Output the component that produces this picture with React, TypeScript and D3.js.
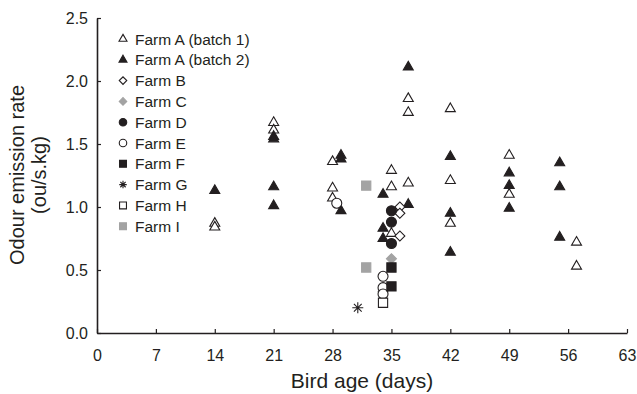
import React, { useEffect, useRef } from 'react';
import * as d3 from 'd3';

// [bird age (days), odour emission rate (ou/s.kg)]
const farmA1 = [
  [14, 0.87], [14, 0.84], [21, 1.67], [21, 1.61], [28, 1.36], [28, 1.15], [28, 1.07],
  [35, 1.29], [35, 1.16], [35, 0.79], [37, 1.86], [37, 1.75], [37, 1.19],
  [42, 1.78], [42, 1.21], [42, 0.87], [49, 1.41], [49, 1.1], [57, 0.72], [57, 0.53]
];
const farmA2 = [
  [14, 1.13], [21, 1.56], [21, 1.54], [21, 1.16], [21, 1.01], [29, 1.41], [29, 1.38], [29, 0.97],
  [34, 1.1], [34, 0.83], [34, 0.75], [37, 2.11], [37, 1.02], [42, 1.4], [42, 0.95], [42, 0.64],
  [49, 1.27], [49, 1.17], [49, 0.99], [55, 1.35], [55, 1.16], [55, 0.76]
];
const farmB = [[36, 1.0], [36, 0.95], [36, 0.77]];
const farmC = [[35, 0.59], [34, 0.33]];
const farmD = [[35, 0.97], [35, 0.88], [35, 0.71]];
const farmE = [[34, 0.45], [34, 0.36], [34, 0.31], [28.5, 1.03]];
const farmF = [[35, 0.52], [35, 0.37]];
const farmG = [[31, 0.2]];
const farmH = [[34, 0.24]];
const farmI = [[32, 1.17], [32, 0.52]];

const farmNames = ['Farm A (batch 1)', 'Farm A (batch 2)', 'Farm B', 'Farm C', 'Farm D',
  'Farm E', 'Farm F', 'Farm G', 'Farm H', 'Farm I'];
const farmData = [farmA1, farmA2, farmB, farmC, farmD, farmE, farmF, farmG, farmH, farmI];

const xTicks = [0, 7, 14, 21, 28, 35, 42, 49, 56, 63];
const yTicks = [0, 0.5, 1, 1.5, 2, 2.5];

const ink = '#231f20';
const grey = '#a3a3a3';

// marker style per farm
const styles = [
  { type: 'tri', fill: '#fff', stroke: ink },
  { type: 'tri', fill: ink, stroke: ink },
  { type: 'dia', fill: '#fff', stroke: ink },
  { type: 'dia', fill: grey, stroke: grey },
  { type: 'circ', fill: ink, stroke: ink },
  { type: 'circ', fill: '#fff', stroke: ink },
  { type: 'sq', fill: ink, stroke: ink },
  { type: 'star', fill: 'none', stroke: ink },
  { type: 'sq', fill: '#fff', stroke: ink },
  { type: 'sq', fill: grey, stroke: grey }
];

function markerPath(type, w) {
  if (type === 'tri') return d3.symbol(d3.symbolTriangle, (Math.sqrt(3) / 4) * w * w)();
  if (type === 'circ') return d3.symbol(d3.symbolCircle, Math.PI * (w / 2) * (w / 2))();
  if (type === 'sq') return d3.symbol(d3.symbolSquare, w * w * 0.85)();
  if (type === 'dia') return d3.symbol(d3.symbolSquare, (w * w) / 2)();
  // asterisk: 8 spokes
  const r = w / 2;
  let p = '';
  for (let i = 0; i < 4; i++) {
    const a = (i * Math.PI) / 4;
    p += `M${-r * Math.cos(a)},${-r * Math.sin(a)}L${r * Math.cos(a)},${r * Math.sin(a)}`;
  }
  return p;
}

function Chart() {
  const ref = useRef(null);

  useEffect(() => {
    const svg = d3.select(ref.current);
    svg.selectAll('*').remove();

    const x = d3.scaleLinear().domain([0, 63]).range([97, 627]);
    const y = d3.scaleLinear().domain([0, 2.5]).range([333, 18]);

    const font = 'Liberation Sans, Arial, sans-serif';

    const xAxis = svg.append('g')
      .attr('transform', 'translate(0,333)')
      .call(d3.axisBottom(x).tickValues(xTicks).tickSizeInner(-4).tickSizeOuter(0).tickPadding(17)
        .tickFormat(d3.format('d')));
    const yAxis = svg.append('g')
      .attr('transform', 'translate(97,0)')
      .call(d3.axisLeft(y).tickValues(yTicks).tickSizeInner(-4).tickSizeOuter(0).tickPadding(9)
        .tickFormat(d3.format('.1f')));

    [xAxis, yAxis].forEach(a => {
      a.select('.domain').attr('stroke', ink).attr('stroke-width', 1.6);
      a.selectAll('.tick line').attr('stroke', ink).attr('stroke-width', 1.2);
      a.selectAll('text').attr('fill', ink).style('font-family', font).style('font-size', '16px');
    });

    svg.append('text')
      .attr('x', 362).attr('y', 388)
      .attr('text-anchor', 'middle')
      .style('font-family', font).style('font-size', '21px').attr('fill', ink)
      .text('Bird age (days)');

    const yt = svg.append('text')
      .attr('transform', 'translate(0,175) rotate(-90)')
      .attr('text-anchor', 'middle')
      .style('font-family', font).style('font-size', '20px').attr('fill', ink);
    yt.append('tspan').attr('x', 0).attr('y', 24).text('Odour emission rate');
    yt.append('tspan').attr('x', 0).attr('y', 46).text('(ou/s.kg)');

    // points
    farmData.forEach((data, i) => {
      const s = styles[i];
      const size = s.type === 'star' ? 11 : 10;
      svg.append('g').selectAll('path')
        .data(data)
        .enter()
        .append('path')
        .attr('d', markerPath(s.type, size))
        .attr('transform', d => `translate(${x(d[0])},${y(d[1])})` + (s.type === 'dia' ? ' rotate(45)' : ''))
        .attr('fill', s.fill)
        .attr('stroke', s.stroke)
        .attr('stroke-width', 1.1);
    });

    // legend
    const leg = svg.append('g');
    farmNames.forEach((name, i) => {
      const s = styles[i];
      const cy = 39 + i * 20.8;
      leg.append('path')
        .attr('d', markerPath(s.type, s.type === 'tri' ? 8 : 7.5))
        .attr('transform', `translate(123,${cy})` + (s.type === 'dia' ? ' rotate(45)' : ''))
        .attr('fill', s.fill)
        .attr('stroke', s.stroke)
        .attr('stroke-width', 1.1);
      leg.append('text')
        .attr('x', 135).attr('y', cy)
        .attr('dy', '0.36em')
        .style('font-family', font).style('font-size', '15.5px').attr('fill', ink)
        .text(name);
    });
  }, []);

  return <svg ref={ref} width={637} height={394} style={{ position: 'absolute', left: 0, top: 0, background: '#fff' }} />;
}

export default function App() {
  return <Chart />;
}
